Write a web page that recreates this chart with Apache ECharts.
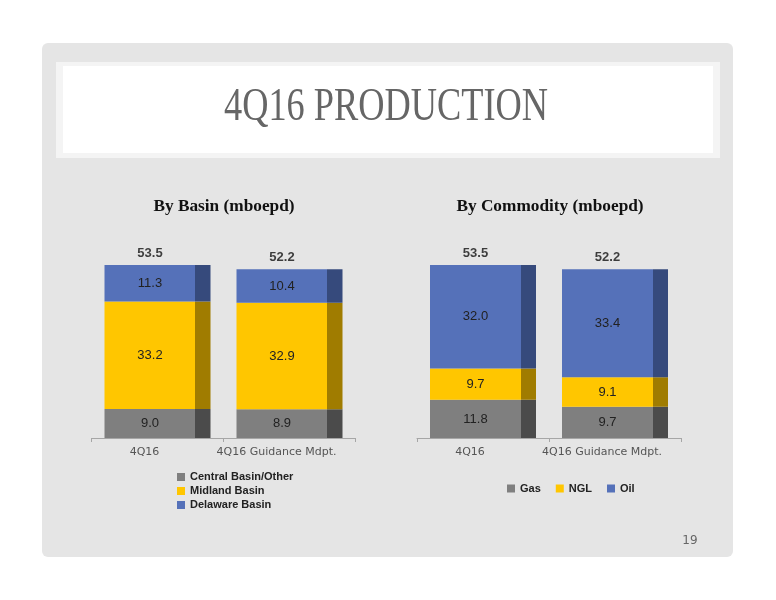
<!DOCTYPE html>
<html>
<head>
<meta charset="utf-8">
<script src="https://cdn.jsdelivr.net/npm/echarts@6/dist/echarts.min.js"></script>
<style>
  html, body { margin: 0; padding: 0; background: #fff; }
  #chart { width: 776px; height: 600px; }
</style>
</head>
<body>
<div id="chart"></div>
<script>
// data
const categories = ['4Q16', '4Q16 Guidance Mdpt.'];

const basinNames = ['Central Basin/Other', 'Midland Basin', 'Delaware Basin'];
const centralBasin = [9.0, 8.9];
const midlandBasin = [33.2, 32.9];
const delawareBasin = [11.3, 10.4];
const basinTotals = [53.5, 52.2];

const commodityNames = ['Gas', 'NGL', 'Oil'];
const gas = [11.8, 9.7];
const ngl = [9.7, 9.1];
const oil = [32.0, 33.4];
const commodityTotals = [53.5, 52.2];

// front colour / dark side colour (fake 3d)
const gray = ['#7f7f7f', '#4b4b4b'];
const yellow = ['#ffc600', '#a07c00'];
const blue = ['#5571b9', '#364a7c'];

const FRONT = 0.858; // front face share of bar width

function sideFill(c) {
    return {
        type: 'linear', x: 0, y: 0, x2: 1, y2: 0,
        colorStops: [
            { offset: 0, color: c[0] },
            { offset: FRONT, color: c[0] },
            { offset: FRONT, color: c[1] },
            { offset: 1, color: c[1] }
        ]
    };
}

function stackSeries(name, data, colors, idx, stack) {
    return {
        name: name,
        type: 'bar',
        stack: stack,
        xAxisIndex: idx,
        yAxisIndex: idx,
        barWidth: 106,
        data: data,
        itemStyle: { color: sideFill(colors) },
        label: {
            show: true,
            position: 'inside',
            offset: [-7.5, 0],
            formatter: p => p.value.toFixed(1),
            fontFamily: 'Liberation Sans',
            fontSize: 13,
            color: '#222'
        },
        silent: true
    };
}

function totalSeries(data, idx) {
    return {
        type: 'scatter',
        xAxisIndex: idx,
        yAxisIndex: idx,
        symbolSize: 1,
        itemStyle: { color: 'rgba(0,0,0,0)' },
        data: data,
        z: 5,
        silent: true,
        label: {
            show: true,
            position: 'top',
            distance: 5,
            offset: [-7.5, 0],
            formatter: p => p.value.toFixed(1),
            fontFamily: 'Liberation Sans',
            fontWeight: 'bold',
            fontSize: 13,
            color: '#111'
        }
    };
}

const catAxis = idx => ({
    type: 'category',
    gridIndex: idx,
    data: categories,
    axisLine: { lineStyle: { color: '#a6a6a6', width: 1 } },
    axisTick: { show: true, length: 4, lineStyle: { color: '#a6a6a6' } },
    axisLabel: {
        interval: 0,
        color: '#555',
        fontFamily: 'DejaVu Sans',
        fontSize: 11,
        margin: 9,
        padding: [0, 26, 0, 0]
    }
});

const valAxis = idx => ({
    type: 'value',
    gridIndex: idx,
    min: 0,
    max: 60,
    show: false,
    splitLine: { show: false }
});

const legendText = {
    fontFamily: 'Liberation Sans',
    fontWeight: 'bold',
    fontSize: 11,
    color: '#222'
};

const chart = echarts.init(document.getElementById('chart'));

chart.setOption({
    animation: false,
    backgroundColor: '#fff',
    graphic: [
        { type: 'rect', z: -10, shape: { x: 42, y: 43, width: 691, height: 514, r: 6 }, style: { fill: '#e5e5e5' } },
        { type: 'rect', z: -9, shape: { x: 56, y: 62, width: 664, height: 96 }, style: { fill: '#f4f4f4' } },
        { type: 'rect', z: -8, shape: { x: 63, y: 66, width: 650, height: 87 }, style: { fill: '#ffffff' } },
        {
            type: 'text', x: 386, y: 108, scaleX: 0.79,
            style: {
                text: '4Q16 PRODUCTION', align: 'center', verticalAlign: 'middle',
                font: '46px "Liberation Serif"', fill: '#666'
            }
        },
        {
            type: 'text', x: 224, y: 207, scaleX: 1.08,
            style: {
                text: 'By Basin (mboepd)', align: 'center', verticalAlign: 'middle',
                font: 'bold 16px "Liberation Serif"', fill: '#111'
            }
        },
        {
            type: 'text', x: 550, y: 207, scaleX: 1.08,
            style: {
                text: 'By Commodity (mboepd)', align: 'center', verticalAlign: 'middle',
                font: 'bold 16px "Liberation Serif"', fill: '#111'
            }
        },
        {
            type: 'text', x: 690, y: 541,
            style: {
                text: '19', align: 'center', verticalAlign: 'middle',
                font: '12px "DejaVu Sans"', fill: '#666'
            }
        }
    ],
    grid: [
        { left: 91.5, width: 264, top: 244, height: 194 },
        { left: 417, width: 264, top: 244, height: 194 }
    ],
    xAxis: [catAxis(0), catAxis(1)],
    yAxis: [valAxis(0), valAxis(1)],
    legend: [
        {
            orient: 'vertical',
            left: 172,
            top: 465,
            itemWidth: 8,
            itemHeight: 8,
            itemGap: 0,
            icon: 'rect',
            selectedMode: false,
            textStyle: Object.assign({ lineHeight: 14 }, legendText),
            data: [
                { name: basinNames[0], itemStyle: { color: gray[0] } },
                { name: basinNames[1], itemStyle: { color: yellow[0] } },
                { name: basinNames[2], itemStyle: { color: blue[0] } }
            ]
        },
        {
            orient: 'horizontal',
            left: 502,
            top: 478,
            itemWidth: 8,
            itemHeight: 8,
            itemGap: 15,
            icon: 'rect',
            selectedMode: false,
            textStyle: legendText,
            data: [
                { name: commodityNames[0], itemStyle: { color: gray[0] } },
                { name: commodityNames[1], itemStyle: { color: yellow[0] } },
                { name: commodityNames[2], itemStyle: { color: blue[0] } }
            ]
        }
    ],
    series: [
        stackSeries(basinNames[0], centralBasin, gray, 0, 'basin'),
        stackSeries(basinNames[1], midlandBasin, yellow, 0, 'basin'),
        stackSeries(basinNames[2], delawareBasin, blue, 0, 'basin'),
        totalSeries(basinTotals, 0),
        stackSeries(commodityNames[0], gas, gray, 1, 'commodity'),
        stackSeries(commodityNames[1], ngl, yellow, 1, 'commodity'),
        stackSeries(commodityNames[2], oil, blue, 1, 'commodity'),
        totalSeries(commodityTotals, 1)
    ]
});
</script>
</body>
</html>
